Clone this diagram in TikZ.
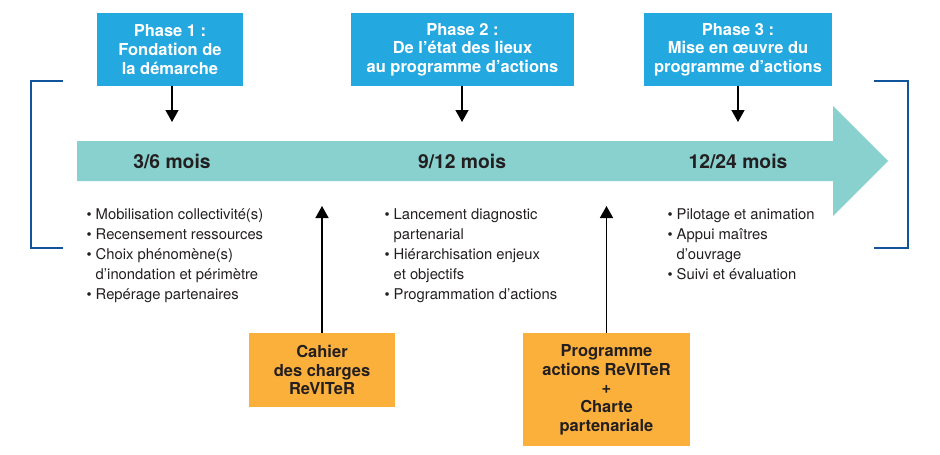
\documentclass[tikz,border=0pt]{standalone}
\usepackage{fontspec}
\setmainfont{TeX Gyre Heros}
\usetikzlibrary{arrows.meta}
\definecolor{phaseblue}{RGB}{35,168,224}
\definecolor{bandteal}{RGB}{137,209,207}
\definecolor{orangebox}{RGB}{251,176,59}
\definecolor{bracketblue}{RGB}{18,84,154}
\definecolor{inkdark}{RGB}{35,31,32}
\newcommand\bul{\makebox[9pt][l]{\raisebox{0pt}{\fontsize{14.5}{14}\selectfont•}}}
\newcommand\cont{\hspace*{9pt}}
\tikzset{
  phasebox/.style={fill=phaseblue, text=white, font=\bfseries\fontsize{16.5}{18.7}\selectfont, align=center, inner sep=0pt, minimum height=73pt},
  docbox/.style={fill=orangebox, text=inkdark, font=\bfseries\fontsize{16.5}{18.7}\selectfont, align=center, inner sep=0pt},
  bandlabel/.style={text=inkdark, font=\bfseries\fontsize{19.3}{20}\selectfont, inner sep=0pt},
  bullist/.style={text=inkdark, font=\fontsize{14.8}{20}\selectfont, align=left, anchor=north west, inner sep=0pt},
  downarrow/.style={draw=black, line width=1.4pt, -{Triangle[width=13pt,length=12pt]}},
  uparrow/.style={draw=black, line width=1.6pt, -{Triangle[width=13pt,length=12pt]}},
  bracketline/.style={draw=bracketblue, line width=2.2pt}
}
\begin{document}
\begin{tikzpicture}[x=1pt,y=-1pt]
\useasboundingbox (0,0) rectangle (940,455);
% band arrow
\fill[bandteal] (77,141) -- (833,141) -- (833,106) -- (888,161) -- (833,216) -- (833,181) -- (77,181) -- cycle;
% brackets
\draw[bracketline] (63,81) -| (31,248) -- (63,248);
\draw[bracketline] (874,81) -| (908,248) -- (874,248);
% phase boxes
\node[phasebox, minimum width=146pt] (p1) at (170,49.5) {Phase 1 :\\Fondation de\\la démarche};
\node[phasebox, minimum width=223pt] (p2) at (462.5,49.5) {Phase 2 :\\De l’état des lieux\\au programme d’actions};
\node[phasebox, minimum width=188pt] (p3) at (738,49.5) {Phase 3 :\\Mise en œuvre du\\programme d’actions};
% band labels
\node[bandlabel] (m1) at (172,161) {3/6 mois};
\node[bandlabel] (m2) at (462,161) {9/12 mois};
\node[bandlabel] (m3) at (738,161) {12/24 mois};
% arrow ends
\coordinate (a1) at (172,122);
\coordinate (a2) at (462,122);
\coordinate (a3) at (738,122);
\draw[downarrow] (p1.south -| a1) -- (a1);
\draw[downarrow] (p2.south -| a2) -- (a2);
\draw[downarrow] (p3.south -| a3) -- (a3);
% bullet lists
\node[bullist] (l1) at (86.5,209) {\bul Mobilisation collectivité(s)\\\bul Recensement ressources\\\bul Choix phénomène(s)\\\cont d’inondation et périmètre\\\bul Repérage partenaires};
\node[bullist] (l2) at (384.5,209) {\bul Lancement diagnostic\\\cont partenarial\\\bul Hiérarchisation enjeux\\\cont et objectifs\\\bul Programmation d’actions};
\node[bullist] (l3) at (667.5,209) {\bul Pilotage et animation\\\bul Appui maîtres\\\cont d’ouvrage\\\bul Suivi et évaluation};
% document boxes
\node[docbox, minimum width=146pt, minimum height=74pt] (d1) at (322,370) {Cahier\\des charges\\ReVITeR};
\node[docbox, minimum width=167pt, minimum height=113pt] (d2) at (606.5,389.5) {Programme\\actions ReVITeR\\+\\Charte\\partenariale};
\coordinate (u1) at (322,206);
\coordinate (u2) at (606.5,206);
\draw[uparrow] (d1.north) -- (u1);
\draw[uparrow] (d2.north) -- (u2);
\end{tikzpicture}
\end{document}
